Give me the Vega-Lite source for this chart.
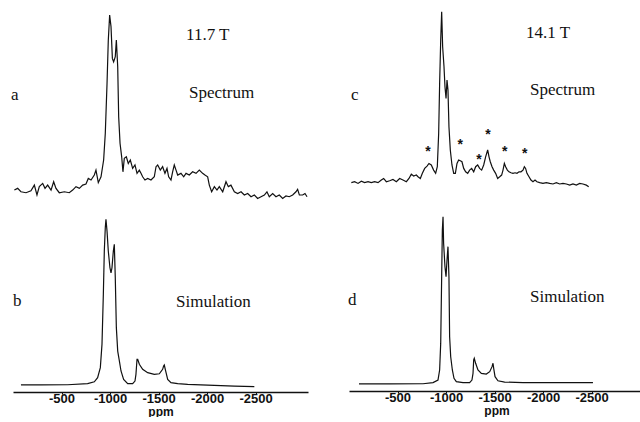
{
  "$schema": "https://vega.github.io/schema/vega-lite/v6.json",
  "padding": {"left": 10, "top": 5, "right": 0, "bottom": 0},
  "background": "white",
  "config": {
    "view": {"stroke": null},
    "axis": {"grid": false},
    "text": {"font": "Liberation Serif", "fontSize": 17, "color": "#111", "align": "left", "baseline": "alphabetic"}
  },
  "datasets": {
    "specA": [
      {"p":-14,"i":0.026},{"p":-48,"i":0.035},{"p":-82,"i":0.017},{"p":-134,"i":0.012},{"p":-185,"i":0.022},{"p":-220,"i":0.052},{"p":-247,"i":0.0},{"p":-271,"i":0.044},{"p":-306,"i":0.061},{"p":-330,"i":0.035},{"p":-357,"i":0.052},{"p":-392,"i":0.026},{"p":-419,"i":0.07},{"p":-443,"i":0.035},{"p":-477,"i":0.012},{"p":-529,"i":0.017},{"p":-580,"i":0.012},{"p":-615,"i":0.026},{"p":-649,"i":0.044},{"p":-684,"i":0.035},{"p":-718,"i":0.052},{"p":-752,"i":0.058},{"p":-776,"i":0.087},{"p":-804,"i":0.079},{"p":-838,"i":0.105},{"p":-855,"i":0.131},{"p":-879,"i":0.065},{"p":-907,"i":0.096},{"p":-934,"i":0.184},{"p":-951,"i":0.324},{"p":-969,"i":0.587},{"p":-982,"i":0.815},{"p":-996,"i":0.947},{"p":-1010,"i":0.886},{"p":-1024,"i":0.719},{"p":-1037,"i":0.701},{"p":-1054,"i":0.728},{"p":-1065,"i":0.815},{"p":-1079,"i":0.675},{"p":-1089,"i":0.412},{"p":-1103,"i":0.272},{"p":-1120,"i":0.201},{"p":-1133,"i":0.122},{"p":-1147,"i":0.193},{"p":-1168,"i":0.201},{"p":-1188,"i":0.166},{"p":-1209,"i":0.184},{"p":-1233,"i":0.14},{"p":-1257,"i":0.158},{"p":-1278,"i":0.114},{"p":-1302,"i":0.131},{"p":-1319,"i":0.114},{"p":-1336,"i":0.096},{"p":-1360,"i":0.079},{"p":-1388,"i":0.087},{"p":-1422,"i":0.079},{"p":-1456,"i":0.096},{"p":-1474,"i":0.149},{"p":-1491,"i":0.158},{"p":-1518,"i":0.131},{"p":-1542,"i":0.149},{"p":-1566,"i":0.114},{"p":-1587,"i":0.14},{"p":-1604,"i":0.096},{"p":-1628,"i":0.079},{"p":-1645,"i":0.122},{"p":-1662,"i":0.158},{"p":-1680,"i":0.131},{"p":-1697,"i":0.105},{"p":-1731,"i":0.114},{"p":-1759,"i":0.096},{"p":-1783,"i":0.114},{"p":-1817,"i":0.105},{"p":-1851,"i":0.122},{"p":-1886,"i":0.114},{"p":-1920,"i":0.131},{"p":-1954,"i":0.114},{"p":-1978,"i":0.105},{"p":-2006,"i":0.096},{"p":-2023,"i":0.052},{"p":-2047,"i":0.017},{"p":-2075,"i":0.044},{"p":-2102,"i":0.026},{"p":-2126,"i":0.044},{"p":-2161,"i":0.017},{"p":-2195,"i":0.07},{"p":-2219,"i":0.044},{"p":-2246,"i":0.052},{"p":-2281,"i":0.017},{"p":-2315,"i":0.008},{"p":-2350,"i":0.017},{"p":-2384,"i":0.0},{"p":-2418,"i":0.008},{"p":-2453,"i":-0.009},{"p":-2487,"i":0.0},{"p":-2521,"i":-0.018},{"p":-2556,"i":-0.009},{"p":-2590,"i":0.0},{"p":-2617,"i":0.017},{"p":-2641,"i":-0.009},{"p":-2676,"i":0.008},{"p":-2710,"i":-0.009},{"p":-2744,"i":0.0},{"p":-2779,"i":-0.018},{"p":-2813,"i":-0.005},{"p":-2847,"i":-0.009},{"p":-2882,"i":0.0},{"p":-2916,"i":0.017},{"p":-2933,"i":0.03},{"p":-2951,"i":0.0},{"p":-2985,"i":0.0},{"p":-3009,"i":0.008},{"p":-3030,"i":-0.009}
    ],
    "simB": [
      {"p":-82,"i":0.038},{"p":-288,"i":0.038},{"p":-563,"i":0.039},{"p":-769,"i":0.045},{"p":-838,"i":0.055},{"p":-872,"i":0.077},{"p":-900,"i":0.131},{"p":-917,"i":0.256},{"p":-931,"i":0.525},{"p":-941,"i":0.758},{"p":-951,"i":0.883},{"p":-958,"i":0.928},{"p":-969,"i":0.865},{"p":-982,"i":0.758},{"p":-999,"i":0.668},{"p":-1010,"i":0.641},{"p":-1020,"i":0.668},{"p":-1034,"i":0.758},{"p":-1044,"i":0.794},{"p":-1054,"i":0.615},{"p":-1065,"i":0.346},{"p":-1079,"i":0.22},{"p":-1096,"i":0.167},{"p":-1113,"i":0.113},{"p":-1140,"i":0.068},{"p":-1182,"i":0.045},{"p":-1233,"i":0.045},{"p":-1257,"i":0.059},{"p":-1267,"i":0.095},{"p":-1278,"i":0.176},{"p":-1285,"i":0.176},{"p":-1302,"i":0.149},{"p":-1336,"i":0.122},{"p":-1388,"i":0.104},{"p":-1456,"i":0.095},{"p":-1508,"i":0.098},{"p":-1542,"i":0.122},{"p":-1552,"i":0.14},{"p":-1559,"i":0.145},{"p":-1573,"i":0.113},{"p":-1594,"i":0.068},{"p":-1628,"i":0.05},{"p":-1697,"i":0.045},{"p":-1800,"i":0.041},{"p":-1937,"i":0.038},{"p":-2281,"i":0.032},{"p":-2487,"i":0.029}
    ],
    "specC": [
      {"p":-24,"i":0.065},{"p":-58,"i":0.07},{"p":-93,"i":0.061},{"p":-127,"i":0.073},{"p":-161,"i":0.065},{"p":-196,"i":0.07},{"p":-230,"i":0.065},{"p":-264,"i":0.07},{"p":-299,"i":0.065},{"p":-333,"i":0.079},{"p":-357,"i":0.087},{"p":-385,"i":0.07},{"p":-419,"i":0.075},{"p":-453,"i":0.082},{"p":-488,"i":0.07},{"p":-522,"i":0.087},{"p":-556,"i":0.079},{"p":-591,"i":0.07},{"p":-618,"i":0.087},{"p":-642,"i":0.11},{"p":-666,"i":0.1},{"p":-694,"i":0.105},{"p":-711,"i":0.096},{"p":-735,"i":0.087},{"p":-756,"i":0.114},{"p":-780,"i":0.14},{"p":-804,"i":0.152},{"p":-824,"i":0.166},{"p":-848,"i":0.158},{"p":-872,"i":0.131},{"p":-893,"i":0.114},{"p":-910,"i":0.149},{"p":-924,"i":0.324},{"p":-934,"i":0.587},{"p":-945,"i":0.815},{"p":-955,"i":0.965},{"p":-965,"i":0.78},{"p":-979,"i":0.675},{"p":-989,"i":0.57},{"p":-1000,"i":0.508},{"p":-1010,"i":0.605},{"p":-1020,"i":0.552},{"p":-1030,"i":0.359},{"p":-1044,"i":0.237},{"p":-1061,"i":0.158},{"p":-1079,"i":0.114},{"p":-1096,"i":0.114},{"p":-1113,"i":0.166},{"p":-1130,"i":0.184},{"p":-1147,"i":0.18},{"p":-1164,"i":0.175},{"p":-1182,"i":0.14},{"p":-1202,"i":0.122},{"p":-1223,"i":0.114},{"p":-1243,"i":0.131},{"p":-1264,"i":0.14},{"p":-1285,"i":0.122},{"p":-1305,"i":0.149},{"p":-1326,"i":0.158},{"p":-1346,"i":0.14},{"p":-1367,"i":0.131},{"p":-1388,"i":0.158},{"p":-1408,"i":0.201},{"p":-1429,"i":0.237},{"p":-1443,"i":0.201},{"p":-1456,"i":0.175},{"p":-1474,"i":0.149},{"p":-1491,"i":0.131},{"p":-1511,"i":0.114},{"p":-1532,"i":0.087},{"p":-1553,"i":0.096},{"p":-1573,"i":0.105},{"p":-1587,"i":0.131},{"p":-1601,"i":0.166},{"p":-1614,"i":0.149},{"p":-1632,"i":0.131},{"p":-1649,"i":0.122},{"p":-1669,"i":0.117},{"p":-1690,"i":0.114},{"p":-1711,"i":0.117},{"p":-1731,"i":0.114},{"p":-1752,"i":0.122},{"p":-1772,"i":0.122},{"p":-1793,"i":0.131},{"p":-1807,"i":0.149},{"p":-1820,"i":0.14},{"p":-1834,"i":0.114},{"p":-1855,"i":0.096},{"p":-1875,"i":0.079},{"p":-1896,"i":0.07},{"p":-1917,"i":0.079},{"p":-1937,"i":0.07},{"p":-1965,"i":0.065},{"p":-1999,"i":0.061},{"p":-2033,"i":0.065},{"p":-2068,"i":0.061},{"p":-2102,"i":0.058},{"p":-2137,"i":0.065},{"p":-2171,"i":0.058},{"p":-2205,"i":0.061},{"p":-2240,"i":0.058},{"p":-2274,"i":0.052},{"p":-2308,"i":0.058},{"p":-2343,"i":0.052},{"p":-2377,"i":0.061},{"p":-2411,"i":0.058},{"p":-2446,"i":0.052},{"p":-2470,"i":0.044}
    ],
    "simD": [
      {"p":-103,"i":0.038},{"p":-419,"i":0.038},{"p":-763,"i":0.039},{"p":-866,"i":0.045},{"p":-917,"i":0.059},{"p":-934,"i":0.113},{"p":-945,"i":0.256},{"p":-955,"i":0.615},{"p":-962,"i":0.865},{"p":-969,"i":0.937},{"p":-975,"i":0.794},{"p":-989,"i":0.668},{"p":-1000,"i":0.615},{"p":-1010,"i":0.704},{"p":-1020,"i":0.776},{"p":-1030,"i":0.615},{"p":-1037,"i":0.292},{"p":-1048,"i":0.184},{"p":-1065,"i":0.113},{"p":-1082,"i":0.068},{"p":-1106,"i":0.05},{"p":-1175,"i":0.045},{"p":-1243,"i":0.045},{"p":-1267,"i":0.059},{"p":-1278,"i":0.095},{"p":-1285,"i":0.167},{"p":-1291,"i":0.176},{"p":-1305,"i":0.149},{"p":-1329,"i":0.113},{"p":-1364,"i":0.095},{"p":-1415,"i":0.091},{"p":-1450,"i":0.104},{"p":-1474,"i":0.131},{"p":-1484,"i":0.149},{"p":-1491,"i":0.122},{"p":-1505,"i":0.077},{"p":-1535,"i":0.055},{"p":-1604,"i":0.048},{"p":-1793,"i":0.045},{"p":-2137,"i":0.045},{"p":-2514,"i":0.045}
    ],
    "notesA": [{"p":21,"i":0.5,"t":"a"},{"p":-1783,"i":0.816,"t":"11.7 T"},{"p":-1814,"i":0.511,"t":"Spectrum"}],
    "notesB": [{"p":0,"i":0.462,"t":"b"},{"p":-1680,"i":0.457,"t":"Simulation"}],
    "notesC": [{"p":-21,"i":0.5,"t":"c"},{"p":-1824,"i":0.826,"t":"14.1 T"},{"p":-1865,"i":0.526,"t":"Spectrum"}],
    "notesD": [{"p":10,"i":0.462,"t":"d"},{"p":-1865,"i":0.478,"t":"Simulation"}],
    "stars": [{"p":-814,"i":0.242},{"p":-1147,"i":0.28},{"p":-1340,"i":0.201},{"p":-1432,"i":0.333},{"p":-1604,"i":0.242},{"p":-1810,"i":0.231}]
  },
  "spacing": 38,
  "hconcat": [
    {
      "spacing": 5,
      "vconcat": [
        {
          "width": 295, "height": 195,
          "encoding": {
            "x": {"field": "p", "type": "quantitative", "scale": {"domain": [0, -3040], "nice": false, "zero": false}, "axis": null},
            "y": {"field": "i", "type": "quantitative", "scale": {"domain": [-0.0263, 1], "nice": false, "zero": false}, "axis": null}
          },
          "layer": [
            {"data": {"name": "specA"}, "mark": {"type": "line", "color": "#111", "strokeWidth": 1.2}},
            {"data": {"name": "notesA"}, "mark": {"type": "text"}, "encoding": {"text": {"field": "t"}}}
          ]
        },
        {
          "width": 295, "height": 186,
          "encoding": {
            "x": {"field": "p", "type": "quantitative", "scale": {"domain": [0, -3040], "nice": false, "zero": false},
                  "axis": {"values": [-500, -1000, -1500, -2000, -2500], "labelExpr": "'-' + abs(datum.value)", "title": "ppm",
                           "domainColor": "#111", "domainWidth": 1.6, "tickColor": "#111", "tickSize": 2, "tickWidth": 1,
                           "labelFont": "Liberation Sans", "labelFontSize": 13, "labelFontWeight": "bold", "labelColor": "#111", "labelPadding": -2, "labelFlush": false,
                           "titleFont": "Liberation Sans", "titleFontSize": 12, "titleFontWeight": "bold", "titleColor": "#111", "titlePadding": 1}},
            "y": {"field": "i", "type": "quantitative", "scale": {"domain": [0, 1], "nice": false, "zero": false}, "axis": null}
          },
          "layer": [
            {"data": {"name": "simB"}, "mark": {"type": "line", "color": "#111", "strokeWidth": 1.2}},
            {"data": {"name": "notesB"}, "mark": {"type": "text"}, "encoding": {"text": {"field": "t"}}}
          ]
        }
      ]
    },
    {
      "spacing": 5,
      "vconcat": [
        {
          "width": 295, "height": 195,
          "encoding": {
            "x": {"field": "p", "type": "quantitative", "scale": {"domain": [0, -3040], "nice": false, "zero": false}, "axis": null},
            "y": {"field": "i", "type": "quantitative", "scale": {"domain": [-0.0263, 1], "nice": false, "zero": false}, "axis": null}
          },
          "layer": [
            {"data": {"name": "specC"}, "mark": {"type": "line", "color": "#111", "strokeWidth": 1.2}},
            {"data": {"name": "notesC"}, "mark": {"type": "text"}, "encoding": {"text": {"field": "t"}}},
            {"data": {"name": "stars"}, "mark": {"type": "text", "text": "*", "font": "Liberation Sans", "fontWeight": "bold", "fontSize": 14, "align": "center", "baseline": "middle", "dy": 3}}
          ]
        },
        {
          "width": 295, "height": 186,
          "encoding": {
            "x": {"field": "p", "type": "quantitative", "scale": {"domain": [0, -3040], "nice": false, "zero": false},
                  "axis": {"values": [-500, -1000, -1500, -2000, -2500], "labelExpr": "'-' + abs(datum.value)", "title": "ppm",
                           "domainColor": "#111", "domainWidth": 1.6, "tickColor": "#111", "tickSize": 2, "tickWidth": 1,
                           "labelFont": "Liberation Sans", "labelFontSize": 13, "labelFontWeight": "bold", "labelColor": "#111", "labelPadding": -2, "labelFlush": false,
                           "titleFont": "Liberation Sans", "titleFontSize": 12, "titleFontWeight": "bold", "titleColor": "#111", "titlePadding": 1}},
            "y": {"field": "i", "type": "quantitative", "scale": {"domain": [0, 1], "nice": false, "zero": false}, "axis": null}
          },
          "layer": [
            {"data": {"name": "simD"}, "mark": {"type": "line", "color": "#111", "strokeWidth": 1.2}},
            {"data": {"name": "notesD"}, "mark": {"type": "text"}, "encoding": {"text": {"field": "t"}}}
          ]
        }
      ]
    }
  ]
}
